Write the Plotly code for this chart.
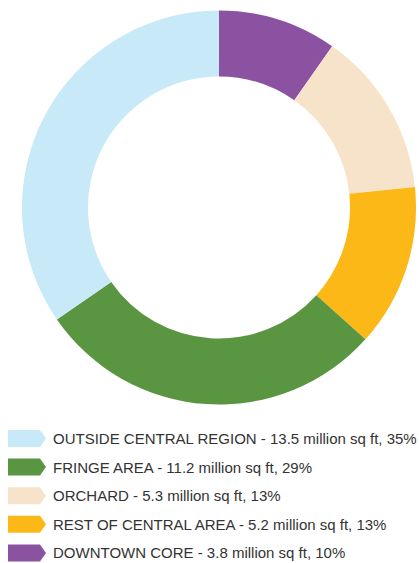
import plotly.graph_objects as go

categories = ["DOWNTOWN CORE", "ORCHARD", "REST OF CENTRAL AREA", "FRINGE AREA", "OUTSIDE CENTRAL REGION"]
values = [3.8, 5.3, 5.2, 11.2, 13.5]
percents = [10, 13, 13, 29, 35]
colors = ["#8b52a1", "#f7e3c9", "#fbb817", "#5a9642", "#c7e9f8"]

legend_order = ["OUTSIDE CENTRAL REGION", "FRINGE AREA", "ORCHARD", "REST OF CENTRAL AREA", "DOWNTOWN CORE"]

W, H = 419, 563

fig = go.Figure()
fig.add_trace(go.Pie(
    labels=categories, values=values, sort=False, direction="clockwise", rotation=0,
    hole=0.665, marker=dict(colors=colors, line=dict(width=0)),
    textinfo="none", hoverinfo="label+value", showlegend=False,
    domain=dict(x=[22 / W, 416 / W], y=[1 - 405 / H, 1 - 10 / H]),
))

shapes = []
annotations = []
row0, step = 438.5, 28.6
for i, name in enumerate(legend_order):
    k = categories.index(name)
    yc = row0 + i * step
    top, bot = yc - 8.5, yc + 8.5
    x0, x1, x2 = 8, 40, 46
    def px(x):
        return x / W
    def py(y):
        return 1 - y / H
    path = (f"M {px(x0)} {py(top)} L {px(x1)} {py(top)} L {px(x2)} {py(yc)} "
            f"L {px(x1)} {py(bot)} L {px(x0)} {py(bot)} Z")
    shapes.append(dict(type="path", xref="paper", yref="paper", path=path,
                       fillcolor=colors[k], line=dict(width=0)))
    annotations.append(dict(
        x=51 / W, y=py(yc), xref="paper", yref="paper", xanchor="left", yanchor="middle",
        showarrow=False,
        text=f"{name} - {values[k]} million sq ft, {percents[k]}%",
        font=dict(family="Liberation Sans, Arial, sans-serif", size=15, color="#333333"),
    ))

fig.update_layout(
    width=W, height=H, margin=dict(l=0, r=0, t=0, b=0),
    paper_bgcolor="white", plot_bgcolor="white",
    shapes=shapes, annotations=annotations,
)
fig.write_html("out.html")
